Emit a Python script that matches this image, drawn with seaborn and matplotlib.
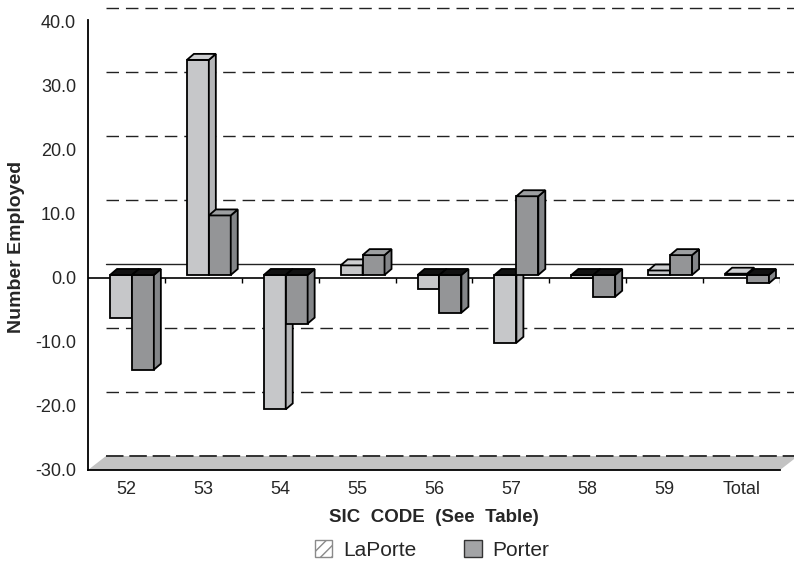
import numpy as np
import pandas as pd
import matplotlib
matplotlib.use("Agg")
import matplotlib.pyplot as plt
import seaborn as sns
from matplotlib.patches import Polygon, Patch

# data
codes = ["52", "53", "54", "55", "56", "57", "58", "59", "Total"]
laporte = [-6.8, 33.6, -21.0, 1.5, -2.2, -10.6, -0.5, 0.7, 0.2]
porter = [-14.8, 9.3, -7.6, 3.1, -5.9, 12.3, -3.4, 3.1, -1.3]
sites = ["LaPorte", "Porter"]
y_ticks = [-30, -20, -10, 0, 10, 20, 30, 40]

df = pd.DataFrame({
    "code": codes * 2,
    "value": laporte + porter,
    "site": [sites[0]] * len(codes) + [sites[1]] * len(codes),
})

front = {"LaPorte": "#c6c7c9", "Porter": "#939598"}
top_col = {"LaPorte": "#cecfd1", "Porter": "#9d9fa1"}
side_col = {"LaPorte": "#b4b5b7", "Porter": "#838588"}

sns.set_style("white")
plt.rcParams["font.family"] = ["Liberation Sans", "DejaVu Sans"]

W, H = 794, 565
fig = plt.figure(figsize=(W / 100, H / 100), dpi=100)
ax_l, ax_r, ax_top, ax_bot = 88, 780, 20, 470
ax = fig.add_axes([ax_l / W, (H - ax_bot) / H, (ax_r - ax_l) / W, (ax_bot - ax_top) / H])

ymin, ymax = -30, 40.3
sns.barplot(data=df, x="code", y="value", hue="site", palette=front,
            width=0.57, edgecolor="black", linewidth=1.3, legend=False,
            ax=ax, zorder=3)
ax.set_xlim(-0.5, len(codes) - 0.5)
ax.set_ylim(ymin, ymax)

# pixel -> data conversion
px_x = (ax_r - ax_l) / len(codes)
px_y = (ax_bot - ax_top) / (ymax - ymin)

# 3D depth of bars and of the back wall
bar_dx, bar_dy = 7 / px_x, 6 / px_y
shift_x, shift_y = 5.5 / px_x, 3 / px_y
wall_dx, wall_dy = 18 / px_x, 14 / px_y

# back wall gridlines
x0w, x1w = -0.5 + wall_dx, len(codes) - 0.5 + wall_dx
for v in y_ticks[1:]:
    ls = "-" if v == 0 else (0, (9, 5))
    ax.plot([x0w, x1w], [v + wall_dy, v + wall_dy], color="#222222", lw=1,
            ls=ls, clip_on=False, zorder=1)

# floor
floor = Polygon([(-0.5, ymin), (x0w, ymin + wall_dy), (x1w, ymin + wall_dy),
                 (len(codes) - 0.5, ymin)], closed=True, facecolor="#c3c3c3",
                edgecolor="none", clip_on=False, zorder=1)
ax.add_patch(floor)
ax.plot([x0w, x1w], [ymin + wall_dy, ymin + wall_dy], color="#333333", lw=1.4,
        ls=(0, (9, 3)), clip_on=False, zorder=1.5)

# front zero line with ticks at category boundaries
ax.axhline(0, color="black", lw=1.2, zorder=2)
bounds = np.arange(len(codes) + 1) - 0.5
ax.vlines(bounds[1:], 0, -5 / px_y, color="black", lw=1, zorder=2)

# 3D faces on each bar
for k, (site, cont) in enumerate(zip(sites, ax.containers)):
    for i, p in enumerate(cont.patches):
        z = 3 + i * 0.1 + k * 0.05
        p.set_x(p.get_x() + shift_x)
        p.set_y(p.get_y() + shift_y)
        p.set_zorder(z)
        x0, w = p.get_x(), p.get_width()
        yb, yt = p.get_y(), p.get_y() + p.get_height()
        lo, hi = min(yb, yt), max(yb, yt)
        val = p.get_height()
        tcol = top_col[site] if val >= 0 else "#111111"
        top = Polygon([(x0, hi), (x0 + w, hi), (x0 + w + bar_dx, hi + bar_dy),
                       (x0 + bar_dx, hi + bar_dy)], closed=True, facecolor=tcol,
                      edgecolor="black", lw=1.3, zorder=z, clip_on=False)
        side = Polygon([(x0 + w, lo), (x0 + w + bar_dx, lo + bar_dy),
                        (x0 + w + bar_dx, hi + bar_dy), (x0 + w, hi)], closed=True,
                       facecolor=side_col[site], edgecolor="black", lw=1.3,
                       zorder=z, clip_on=False)
        ax.add_patch(side)
        ax.add_patch(top)

# axes styling
for s in ["top", "right"]:
    ax.spines[s].set_visible(False)
for s in ["left", "bottom"]:
    ax.spines[s].set_color("black")
    ax.spines[s].set_linewidth(1.3)
    ax.spines[s].set_zorder(5)

ax.set_yticks(y_ticks)
ax.set_yticklabels([f"{v:.1f}" for v in y_ticks], fontsize=13)
ax.set_xticks(range(len(codes)))
ax.set_xticklabels(codes, fontsize=13)
ax.set_xticks(bounds, minor=True)
ax.tick_params(axis="x", which="major", length=0, pad=8)
ax.tick_params(axis="x", which="minor", length=5, width=1, color="black", direction="out")
ax.tick_params(axis="y", length=5.5, width=1.2, color="black", direction="out", pad=3)

ax.set_xlabel("SIC  CODE  (See  Table)", fontsize=13.5, fontweight="bold")
ax.xaxis.label.set_va("center")
ax.xaxis.set_label_coords(0.5, (ax_bot - 517) / (ax_bot - ax_top))
ax.set_ylabel("Number Employed", fontsize=14, fontweight="bold")
ax.yaxis.label.set_va("center")
ax.yaxis.set_label_coords((17 - ax_l) / (ax_r - ax_l), (ax_bot - 247) / (ax_bot - ax_top))

handles = [Patch(facecolor="white", edgecolor="#8a8a8a", hatch="///", label="LaPorte"),
           Patch(facecolor="#a3a4a6", edgecolor="#333333", label="Porter")]
fig.legend(handles=handles, loc="center", bbox_to_anchor=(0.544, 1 - 550 / H), ncol=2,
           frameon=False, fontsize=15, handlelength=0.85, handleheight=0.85,
           columnspacing=2.3, handletextpad=0.5)

fig.savefig("out.png", dpi=100)
